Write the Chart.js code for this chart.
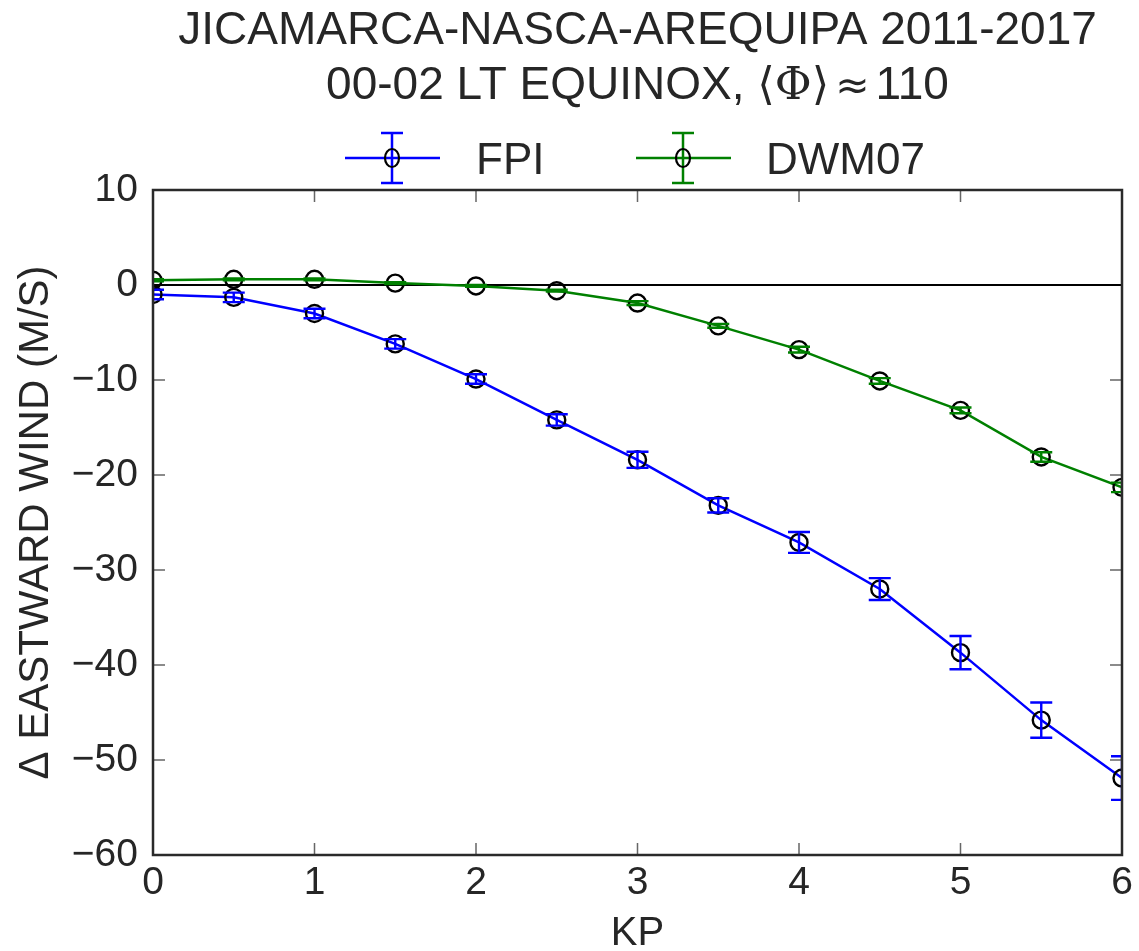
<!DOCTYPE html>
<html>
<head>
<meta charset="utf-8">
<script src="https://cdn.jsdelivr.net/npm/chart.js@4.4.1/dist/chart.umd.min.js"></script>
<style>
html,body{margin:0;padding:0;background:#fff;}
canvas{display:block;}
</style>
</head>
<body>
<canvas id="c" width="1139" height="951"></canvas>
<script>
const kp = [0, 0.5, 1, 1.5, 2, 2.5, 3, 3.5, 4, 4.5, 5, 5.5, 6];
const fpi = [-1.0, -1.3, -3.0, -6.2, -9.9, -14.2, -18.4, -23.2, -27.1, -32.0, -38.7, -45.8, -51.9];
const fpiErr = [0.5, 0.5, 0.5, 0.5, 0.5, 0.6, 0.85, 0.75, 1.1, 1.15, 1.75, 1.85, 2.3];
const dwm = [0.5, 0.6, 0.6, 0.2, -0.1, -0.6, -1.9, -4.3, -6.8, -10.1, -13.2, -18.1, -21.3];
const dwmErr = [0.1, 0.1, 0.1, 0.1, 0.1, 0.1, 0.2, 0.2, 0.3, 0.3, 0.3, 0.5, 0.5];
const xTicks = [0, 1, 2, 3, 4, 5, 6];
const yTicks = [10, 0, -10, -20, -30, -40, -50, -60];
const titleLine1 = 'JICAMARCA-NASCA-AREQUIPA 2011-2017';
const titleLine2 = ['00-02 LT EQUINOX, ', '\u27E8\u03A6\u27E9', '\u2248', '110'];
const seriesNames = ['FPI', 'DWM07'];
const xTitle = 'KP';
const yTitle = '\u0394 EASTWARD WIND (M/S)';

const TEXT = '#262626';
const SANS = '"Liberation Sans", Arial, Helvetica, sans-serif';

function pts(xs, ys){ return xs.map((x,i)=>({x:x, y:ys[i]})); }

const errs = [fpiErr, dwmErr];

const decor = {
  id: 'decor',
  afterDatasetsDraw(chart){
    const ctx = chart.ctx, xs = chart.scales.x, ys = chart.scales.y, a = chart.chartArea;
    ctx.save();
    ctx.beginPath(); ctx.rect(a.left, a.top, a.right-a.left, a.bottom-a.top); ctx.clip();
    chart.data.datasets.forEach((ds, di)=>{
      const e = errs[di];
      ctx.strokeStyle = ds.borderColor; ctx.lineWidth = 2.4;
      ds.data.forEach((p, i)=>{
        const px = xs.getPixelForValue(p.x);
        const y1 = ys.getPixelForValue(p.y + e[i]);
        const y2 = ys.getPixelForValue(p.y - e[i]);
        ctx.beginPath();
        ctx.moveTo(px, y1); ctx.lineTo(px, y2);
        ctx.moveTo(px-11, y1); ctx.lineTo(px+11, y1);
        ctx.moveTo(px-11, y2); ctx.lineTo(px+11, y2);
        ctx.stroke();
      });
    });
    ctx.restore();
  },
  afterDraw(chart){
    const ctx = chart.ctx, xs = chart.scales.x, ys = chart.scales.y, a = chart.chartArea;
    ctx.save();
    // inward ticks
    ctx.strokeStyle = '#666'; ctx.lineWidth = 1.5;
    xTicks.forEach(v=>{
      const px = xs.getPixelForValue(v);
      ctx.beginPath();
      ctx.moveTo(px, a.bottom); ctx.lineTo(px, a.bottom-12);
      ctx.moveTo(px, a.top); ctx.lineTo(px, a.top+12);
      ctx.stroke();
    });
    yTicks.filter(v => v !== 0).forEach(v=>{
      const py = ys.getPixelForValue(v);
      ctx.beginPath();
      ctx.moveTo(a.left, py); ctx.lineTo(a.left+12, py);
      ctx.moveTo(a.right, py); ctx.lineTo(a.right-12, py);
      ctx.stroke();
    });
    // frame
    ctx.strokeStyle = '#2a2a2a'; ctx.lineWidth = 2.5;
    ctx.strokeRect(a.left, a.top, a.right-a.left, a.bottom-a.top);
    const cx = (a.left + a.right) / 2;
    // title line 1
    ctx.fillStyle = TEXT;
    ctx.textBaseline = 'alphabetic';
    ctx.textAlign = 'center';
    ctx.font = '46px ' + SANS;
    ctx.fillText(titleLine1, cx, 44);
    // title line 2 (mixed fonts)
    const fonts2 = ['46px ' + SANS, '45px "DejaVu Serif", serif', '41px "DejaVu Sans", sans-serif', '46px ' + SANS];
    const widths = titleLine2.map((t,i)=>{ ctx.font = fonts2[i]; return ctx.measureText(t).width; });
    const gap = 6;
    const total = widths.reduce((s,w)=>s+w,0) + gap*2;
    let x = cx - total/2;
    ctx.textAlign = 'left';
    titleLine2.forEach((t,i)=>{
      ctx.font = fonts2[i];
      ctx.fillText(t, x, 99);
      x += widths[i] + ((i===1||i===2) ? gap : 0);
    });
    // legend
    const entries = [
      {x0: 345, tx: 476, ds: chart.data.datasets[0]},
      {x0: 636, tx: 766, ds: chart.data.datasets[1]}
    ];
    const ly = 158;
    entries.forEach((en, k)=>{
      ctx.strokeStyle = en.ds.borderColor; ctx.lineWidth = 2.5;
      const mid = en.x0 + 47;
      ctx.beginPath();
      ctx.moveTo(en.x0, ly); ctx.lineTo(en.x0+95, ly);
      ctx.moveTo(mid, ly-25); ctx.lineTo(mid, ly+25);
      ctx.moveTo(mid-11, ly-25); ctx.lineTo(mid+11, ly-25);
      ctx.moveTo(mid-11, ly+25); ctx.lineTo(mid+11, ly+25);
      ctx.stroke();
      ctx.strokeStyle = '#000'; ctx.lineWidth = 2.2;
      ctx.beginPath(); ctx.ellipse(mid, ly, 7, 9, 0, 0, Math.PI*2); ctx.stroke();
      ctx.fillStyle = TEXT;
      ctx.textAlign = 'left'; ctx.textBaseline = 'alphabetic';
      ctx.font = '44px ' + SANS;
      ctx.fillText(seriesNames[k], en.tx, 174);
    });
    // axis titles
    ctx.fillStyle = TEXT;
    ctx.font = '40px ' + SANS;
    ctx.textAlign = 'center'; ctx.textBaseline = 'alphabetic';
    ctx.fillText(xTitle, cx, 945);
    ctx.save();
    ctx.translate(48, (a.top + a.bottom) / 2);
    ctx.rotate(-Math.PI/2);
    ctx.font = '42px ' + SANS;
    ctx.fillText(yTitle, 0, 0);
    ctx.restore();
    ctx.restore();
  }
};

new Chart(document.getElementById('c'), {
  type: 'line',
  data: {
    datasets: [
      {label: seriesNames[0], data: pts(kp, fpi), borderColor: '#0000ff', borderWidth: 2.5,
       pointRadius: 8.5, pointHoverRadius: 8.5, pointBorderColor: '#000', pointBackgroundColor: 'rgba(0,0,0,0)',
       pointBorderWidth: 2.4, fill: false, tension: 0, clip: 0},
      {label: seriesNames[1], data: pts(kp, dwm), borderColor: '#008000', borderWidth: 2.5,
       pointRadius: 8.5, pointHoverRadius: 8.5, pointBorderColor: '#000', pointBackgroundColor: 'rgba(0,0,0,0)',
       pointBorderWidth: 2.4, fill: false, tension: 0, clip: 0}
    ]
  },
  options: {
    responsive: false,
    animation: false,
    devicePixelRatio: 1,
    layout: {padding: {top: 190, right: 17, left: 0, bottom: 0}},
    plugins: {legend: {display: false}, title: {display: false}, tooltip: {enabled: false}},
    scales: {
      x: {
        type: 'linear', min: 0, max: 6,
        afterFit(s){ s.height = 96; },
        afterBuildTicks(s){ s.ticks = xTicks.map(v=>({value:v})); },
        grid: {display: false, drawTicks: false},
        border: {display: false},
        ticks: {color: TEXT, font: {family: SANS, size: 39}, padding: 5, maxRotation: 0}
      },
      y: {
        type: 'linear', min: -60, max: 10,
        afterFit(s){ s.width = 153; },
        afterBuildTicks(s){ s.ticks = yTicks.map(v=>({value:v})); },
        grid: {drawTicks: false, lineWidth: 2,
               color: c => (c.tick && c.tick.value === 0) ? '#000' : 'rgba(0,0,0,0)'},
        border: {display: false},
        ticks: {color: TEXT, font: {family: SANS, size: 39}, padding: 15,
                callback: v => String(v).replace('-', '\u2212')}
      }
    }
  },
  plugins: [decor]
});
</script>
</body>
</html>
